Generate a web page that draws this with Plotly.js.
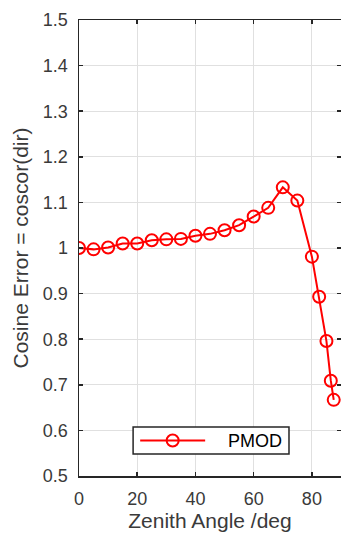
<!DOCTYPE html>
<html>
<head>
<meta charset="utf-8">
<script src="https://cdn.plot.ly/plotly-3.0.1.min.js"></script>
<style>
  html, body { margin: 0; padding: 0; overflow: hidden; background: #fff; }
  #chart { width: 342px; height: 536px; }
</style>
</head>
<body>
<div id="chart"></div>
<script>
// Zenith angle (deg) and cosine correction factor for the PMOD sensor
const zenithAngle = [0, 5, 10, 15, 20, 25, 30, 35, 40, 45, 50, 55, 60, 65, 70, 75, 80, 82.5, 85, 86.5, 87.5];
const cosErrorPMOD = [1.000, 0.997, 1.001, 1.010, 1.010, 1.017, 1.019, 1.020, 1.027, 1.031, 1.039, 1.050, 1.069, 1.088, 1.133, 1.104, 0.981, 0.893, 0.796, 0.709, 0.667];
const seriesName = 'PMOD';
const xTicks = [0, 20, 40, 60, 80];
const yTicks = [0.5, 0.6, 0.7, 0.8, 0.9, 1.0, 1.1, 1.2, 1.3, 1.4, 1.5];

const red = '#ff0000';
const axisColor = '#262626';
const labelColor = '#3a3a3a';
const gridColor = '#e0e0e0';
const fontFam = '"Liberation Sans", Arial, Helvetica, sans-serif';

const trace = {
  x: zenithAngle,
  y: cosErrorPMOD,
  name: seriesName,
  type: 'scatter',
  mode: 'lines+markers',
  line: { color: red, width: 2 },
  marker: { symbol: 'circle-open', size: 12, color: red, line: { color: red, width: 2 } },
  cliponaxis: true,
  showlegend: false
};

const axisCommon = {
  showline: true,
  linecolor: axisColor,
  linewidth: 1.5,
  mirror: 'ticks',
  ticks: 'inside',
  ticklen: 4,
  tickwidth: 1.5,
  tickcolor: axisColor,
  showgrid: true,
  gridcolor: gridColor,
  gridwidth: 1,
  zeroline: false,
  tickfont: { family: fontFam, size: 18, color: labelColor }
};

// Legend box drawn in paper space (lower middle of the axes)
const lgX0 = 0.2065, lgX1 = 0.8015, lgY0 = 0.048, lgY1 = 0.1075;
const lgYc = (lgY0 + lgY1) / 2;
const shapes = [
  { type: 'rect', xref: 'paper', yref: 'paper', x0: lgX0, x1: lgX1, y0: lgY0, y1: lgY1,
    line: { color: axisColor, width: 1.5 }, fillcolor: '#ffffff', layer: 'above' },
  { type: 'line', xref: 'paper', yref: 'paper', x0: lgX0 + 0.027, x1: lgX0 + 0.275, y0: lgYc, y1: lgYc,
    line: { color: red, width: 2 }, layer: 'above' },
  { type: 'circle', xref: 'paper', yref: 'paper', xsizemode: 'pixel', ysizemode: 'pixel',
    xanchor: lgX0 + 0.151, yanchor: lgYc, x0: -6, x1: 6, y0: -6, y1: 6,
    line: { color: red, width: 2 }, fillcolor: 'rgba(0,0,0,0)', layer: 'above' }
];

const layout = {
  width: 342,
  height: 536,
  margin: { l: 79, r: 1, t: 20, b: 60 },
  paper_bgcolor: '#ffffff',
  plot_bgcolor: '#ffffff',
  font: { family: fontFam, color: axisColor },
  showlegend: false,
  xaxis: Object.assign({}, axisCommon, {
    range: [0, 90],
    tickvals: xTicks,
    ticklabelstandoff: 6,
    title: { text: 'Zenith Angle /deg', font: { family: fontFam, size: 21, color: labelColor }, standoff: 4 }
  }),
  yaxis: Object.assign({}, axisCommon, {
    range: [0.5, 1.5],
    tickvals: yTicks,
    ticktext: yTicks.map(v => String(+v.toFixed(1))),
    ticklabelstandoff: 6,
    title: { text: 'Cosine Error = coscor(dir)', font: { family: fontFam, size: 21, color: labelColor }, standoff: 8 }
  }),
  shapes: shapes,
  annotations: [
    { xref: 'paper', yref: 'paper', x: lgX0 + 0.355, y: lgYc, xanchor: 'left', yanchor: 'middle',
      text: seriesName, showarrow: false, font: { family: fontFam, size: 18, color: '#000000' } }
  ]
};

Plotly.newPlot('chart', [trace], layout, { staticPlot: true, displayModeBar: false });
</script>
</body>
</html>
